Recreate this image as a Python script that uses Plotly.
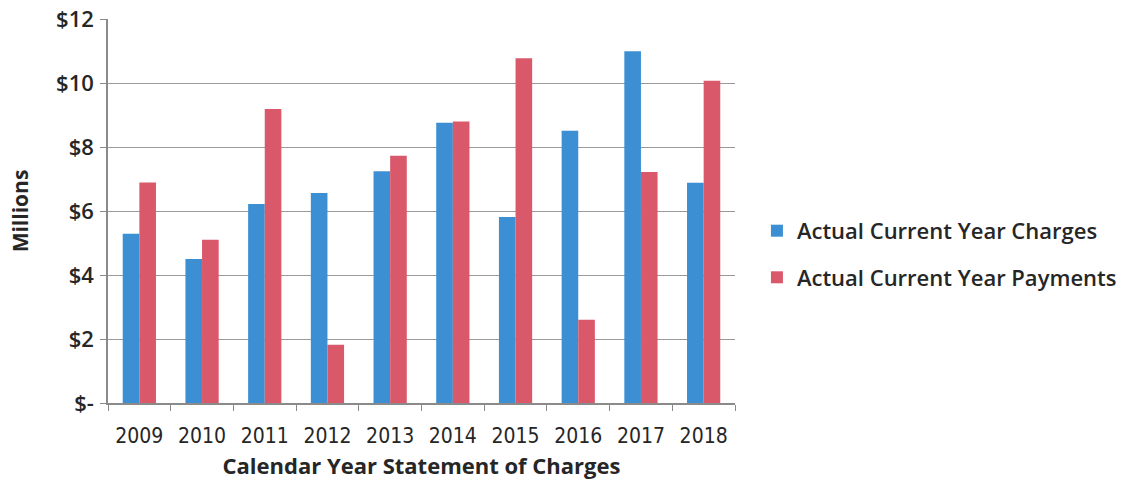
import plotly.graph_objects as go

years = ["2009", "2010", "2011", "2012", "2013", "2014", "2015", "2016", "2017", "2018"]
charges = [5.29, 4.50, 6.22, 6.56, 7.24, 8.76, 5.81, 8.51, 10.99, 6.88]
payments = [6.89, 5.10, 9.19, 1.82, 7.73, 8.80, 10.77, 2.60, 7.22, 10.07]

y_tick_vals = [0, 2, 4, 6, 8, 10, 12]
y_tick_text = ["$-", "$2", "$4", "$6", "$8", "$10", "$12"]

FONT = "'Open Sans', Lato, sans-serif"
NARROW = "'Liberation Sans Narrow', 'DejaVu Sans Condensed', 'Open Sans', sans-serif"
TEXT = "#262626"

fig = go.Figure()
fig.add_trace(go.Bar(
    x=years, y=charges, name="Actual Current Year Charges",
    marker=dict(color="#3B8FD2", line=dict(width=0)),
    legendgroup="c",
))
fig.add_trace(go.Bar(
    x=years, y=payments, name="Actual Current Year Payments",
    marker=dict(color="#D9596B", line=dict(width=0)),
    legendgroup="p",
))

fig.update_layout(
    width=1128, height=487,
    margin=dict(l=108, r=393, t=19, b=84, autoexpand=False),
    paper_bgcolor="white", plot_bgcolor="white",
    barmode="group", bargap=0.47, bargroupgap=0,
    font=dict(family=FONT, color=TEXT, size=17),
    legend=dict(
        x=1.035, y=0.387, xanchor="left", yanchor="middle",
        font=dict(family=FONT, size=22, color=TEXT, weight=600),
        tracegroupgap=15, bgcolor="rgba(0,0,0,0)", itemwidth=30,
    ),
    xaxis=dict(
        type="category", automargin=False,
        showline=True, linecolor="#8a8a8a", linewidth=1.5,
        ticks="outside", tickson="boundaries", ticklen=6, tickcolor="#8a8a8a",
        tickfont=dict(family=NARROW, size=21, color=TEXT),
        ticklabelstandoff=13,
        title=dict(text="<b>Calendar Year Statement of Charges</b>",
                   font=dict(family=FONT, size=22, color=TEXT), standoff=12),
        showgrid=False,
    ),
    yaxis=dict(
        range=[0, 12], automargin=False,
        tickvals=y_tick_vals, ticktext=y_tick_text,
        showline=True, linecolor="#8a8a8a", linewidth=1.5,
        ticks="outside", ticklen=6, tickcolor="#8a8a8a",
        showgrid=True, gridcolor="#9a9a9a", gridwidth=1.2,
        zeroline=False,
        tickfont=dict(family=FONT, size=22, color=TEXT, weight=600),
        ticklabelstandoff=2,
        title=dict(text="<b>Millions</b>",
                   font=dict(family=FONT, size=21, color=TEXT), standoff=22),
    ),
)

fig.write_html("out.html")
